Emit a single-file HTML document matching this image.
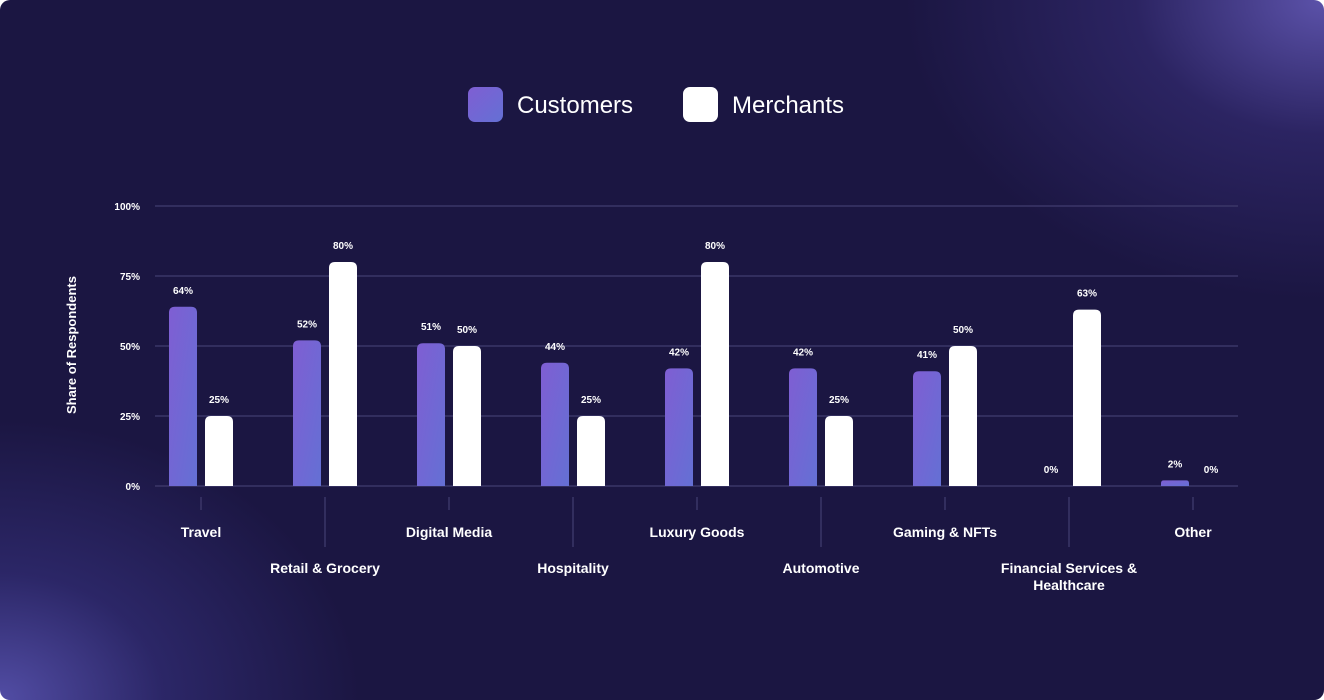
<!DOCTYPE html>
<html><head><meta charset="utf-8">
<style>
html,body{margin:0;padding:0;}
body{width:1324px;height:700px;overflow:hidden;background:#fff;font-family:"Liberation Sans",sans-serif;}
#card{position:absolute;left:0;top:0;width:1324px;height:700px;border-radius:10px;overflow:hidden;
background:radial-gradient(ellipse 420px 300px at 1324px 0px,rgba(95,85,175,0.95),rgba(60,50,130,0.5) 45%,rgba(27,22,66,0) 100%),
radial-gradient(ellipse 360px 280px at 0px 700px,rgba(85,80,170,0.95),rgba(60,55,140,0.5) 45%,rgba(27,22,66,0) 100%),#1b1642;}
svg{position:absolute;left:0;top:0;}
</style></head><body>
<div id="card">
<svg id="chart" width="1324" height="700">
<defs>
<linearGradient id="cg" x1="0" y1="0" x2="1" y2="1">
<stop offset="0" stop-color="#7f5ed3"/><stop offset="1" stop-color="#6470d4"/>
</linearGradient>
</defs>
<g>
<rect x="468" y="87" width="35" height="35" rx="7" fill="url(#cg)"/>
<text x="517" y="113" fill="#fff" font-size="24">Customers</text>
<rect x="683" y="87" width="35" height="35" rx="7" fill="#fff"/>
<text x="732" y="113" fill="#fff" font-size="24">Merchants</text>
</g>
<text transform="translate(76,345) rotate(-90)" text-anchor="middle" fill="#fff" font-size="13" font-weight="bold">Share of Respondents</text>
</svg>
</div>
<script>
const categories=["Travel","Retail & Grocery","Digital Media","Hospitality","Luxury Goods","Automotive","Gaming & NFTs","Financial Services & Healthcare","Other"];
const customers=[64,52,51,44,42,42,41,0,2];
const merchants=[25,80,50,25,80,25,50,63,0];
const yTicks=[0,25,50,75,100];
const yTickLabels=["0%","25%","50%","75%","100%"];

const NS="http://www.w3.org/2000/svg";
const svg=document.getElementById('chart');
const y0=486,y100=206;
function y(v){return y0-(y0-y100)*v/100;}
function xc(i){return 201+124*i;}
function mk(tag,attrs,parent){const e=document.createElementNS(NS,tag);for(const k in attrs)e.setAttribute(k,attrs[k]);(parent||svg).appendChild(e);return e;}
function barPath(x,w,top,bottom){const h=bottom-top;const r=Math.min(6,h/2,w/2);
 if(h<=0)return "";
 return `M${x},${bottom}V${top+r}Q${x},${top} ${x+r},${top}H${x+w-r}Q${x+w},${top} ${x+w},${top+r}V${bottom}Z`;}

yTicks.forEach((t,i)=>{
 const g=mk('line',{x1:155,x2:1238,y1:y(t),y2:y(t),stroke:'#3b3668','stroke-width':1.5});
 
 
 const l=mk('text',{x:140,y:y(t)+4,'text-anchor':'end',fill:'#fff','font-size':10,'font-weight':'bold'});
 l.textContent=yTickLabels[i];
 
 
});

categories.forEach((c,i)=>{
 const cx=xc(i);
 const odd=i%2===1;
 const tk=mk('line',{x1:cx,x2:cx,y1:497,y2:odd?547:510,stroke:'#3b3668','stroke-width':1.5});
 
 
 const lbl=mk('text',{x:cx,y:odd?573:537,'text-anchor':'middle',fill:'#fff','font-size':14,'font-weight':'bold'});
 
 
 if(c==="Financial Services & Healthcare"){
  const a=mk('tspan',{x:cx},lbl);a.textContent="Financial Services &";
  const b=mk('tspan',{x:cx,dy:17},lbl);b.textContent="Healthcare";
 } else lbl.textContent=c;

 const cv=customers[i],mv=merchants[i];
 const cb=mk('path',{d:barPath(cx-32,28,y(cv),y0),fill:'url(#cg)'});
 
 
 const mb=mk('path',{d:barPath(cx+4,28,y(mv),y0),fill:'#fff'});
 
 
 const ct=mk('text',{x:cx-18,y:y(cv)-13,'text-anchor':'middle',fill:'#fff','font-size':10,'font-weight':'bold'});
 ct.textContent=cv+'%';
 
 
 const mt=mk('text',{x:cx+18,y:y(mv)-13,'text-anchor':'middle',fill:'#fff','font-size':10,'font-weight':'bold'});
 mt.textContent=mv+'%';
 
 
});
</script>
</body></html>
